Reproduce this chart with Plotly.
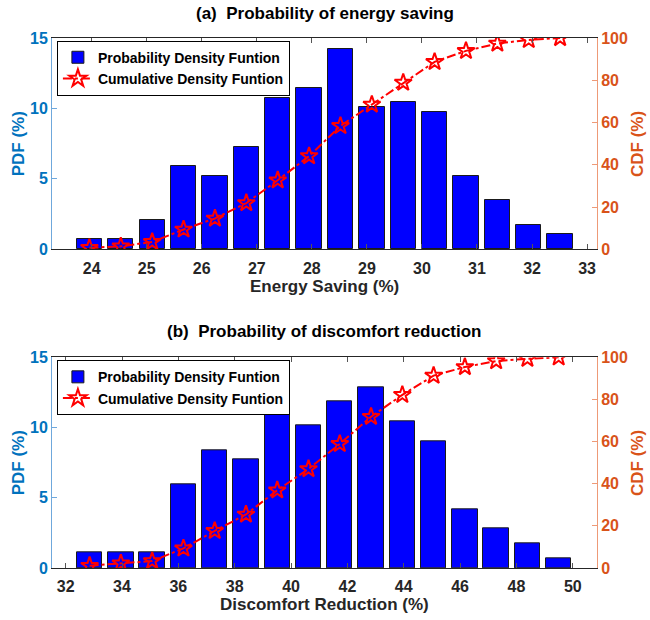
import plotly.graph_objects as go

# ---------------- data ----------------
energy_bins = [23.96, 24.53, 25.10, 25.67, 26.24, 26.81, 27.38, 27.95,
               28.52, 29.09, 29.66, 30.23, 30.80, 31.37, 31.94, 32.51]
energy_pdf = [0.71, 0.71, 2.08, 5.91, 5.23, 7.29, 10.76, 11.45,
              14.24, 10.08, 10.46, 9.75, 5.23, 3.48, 1.75, 1.06]
energy_cdf = [0.7, 1.4, 3.5, 9.4, 14.6, 21.9, 32.7, 44.1,
              58.4, 68.5, 78.9, 88.7, 93.9, 97.4, 99.1, 100.0]

disc_bins = [32.85, 33.96, 35.07, 36.18, 37.29, 38.40, 39.51, 40.62,
             41.73, 42.84, 43.95, 45.06, 46.17, 47.28, 48.39, 49.50]
disc_pdf = [1.10, 1.10, 1.10, 5.95, 8.40, 7.71, 11.52, 10.14,
            11.88, 12.87, 10.45, 9.05, 4.17, 2.80, 1.78, 0.71]
disc_cdf = [1.1, 2.2, 3.3, 9.3, 17.6, 25.4, 36.9, 47.0,
            58.9, 71.8, 82.2, 91.3, 95.4, 98.2, 99.3, 100.0]

energy_xticks = [24, 25, 26, 27, 28, 29, 30, 31, 32, 33]
disc_xticks = [32, 34, 36, 38, 40, 42, 44, 46, 48, 50]
pdf_ticks = [0, 5, 10, 15]
cdf_ticks = [0, 20, 40, 60, 80, 100]

titles = ["(a)  Probability of energy saving", "(b)  Probability of discomfort reduction"]
xlabels = ["Energy Saving (%)", "Discomfort Reduction (%)"]
legend_names = ["Probability Density Funtion", "Cumulative Density Funtion"]

# ---------------- style ----------------
FONT = "Liberation Sans, Arial, sans-serif"
BLUE_AX = "#0072BD"
ORANGE_AX = "#D95319"
DARK = "#262626"

fig = go.Figure()

panels = [
    dict(bins=energy_bins, pdf=energy_pdf, cdf=energy_cdf, width=0.46,
         xa="x", ya="y", ya2="y2", legend="legend"),
    dict(bins=disc_bins, pdf=disc_pdf, cdf=disc_cdf, width=0.90,
         xa="x2", ya="y3", ya2="y4", legend="legend2"),
]

for p in panels:
    fig.add_trace(go.Bar(
        x=p["bins"], y=p["pdf"], width=p["width"], name=legend_names[0],
        marker=dict(color="#0000FF", line=dict(color="#1a1a1a", width=1)),
        xaxis=p["xa"], yaxis=p["ya"], legend=p["legend"],
    ))
    fig.add_trace(go.Scatter(
        x=p["bins"], y=p["cdf"], name=legend_names[1], mode="lines+markers",
        line=dict(color="#FF0000", width=2, dash="dashdot"),
        marker=dict(symbol="star-open", size=13, color="#FF0000",
                    line=dict(color="#FF0000", width=2)),
        xaxis=p["xa"], yaxis=p["ya2"], legend=p["legend"],
    ))

top_dom = [0.6013, 1.0]
bot_dom = [0.0, 0.3975]

tickfont_dark = dict(family=FONT, size=16, color=DARK, weight="bold")
tickfont_blue = dict(family=FONT, size=16, color=BLUE_AX, weight="bold")
tickfont_orng = dict(family=FONT, size=16, color=ORANGE_AX, weight="bold")

def xaxis(rng, ticks, anchor):
    return dict(range=rng, tickvals=ticks, ticks="inside", ticklen=5,
                tickcolor="#555555", showline=True, linecolor=DARK, linewidth=1,
                mirror="ticks", showgrid=False, zeroline=False,
                tickfont=tickfont_dark, anchor=anchor, ticklabelstandoff=4)

def yleft(dom, anchor):
    return dict(domain=dom, range=[0, 15], tickvals=pdf_ticks, ticks="inside",
                ticklen=5, tickcolor="#6FA8DC", showline=True, linecolor="#6FA8DC",
                linewidth=1, showgrid=False, zeroline=False,
                tickfont=tickfont_blue, anchor=anchor)

def yright(over, anchor):
    return dict(overlaying=over, side="right", range=[0, 100], tickvals=cdf_ticks,
                ticks="inside", ticklen=5, tickcolor="#EE9A77", showline=True,
                linecolor="#EE9A77", linewidth=1, showgrid=False, zeroline=False,
                tickfont=tickfont_orng, anchor=anchor)

legend_common = dict(
    bgcolor="white", bordercolor="#000000", borderwidth=1,
    font=dict(family=FONT, size=14, color="#000000", weight="bold"),
    xanchor="left", yanchor="top", tracegroupgap=0, itemwidth=30,
)

fig.update_layout(
    width=650, height=620,
    margin=dict(l=52, r=53, t=38, b=52),
    paper_bgcolor="white", plot_bgcolor="white",
    bargap=0,
    xaxis=dict(domain=[0, 1], **xaxis([23.28, 33.18], energy_xticks, "y")),
    xaxis2=dict(domain=[0, 1], **xaxis([31.515, 50.86], disc_xticks, "y3")),
    yaxis=yleft(top_dom, "x"),
    yaxis2=yright("y", "x"),
    yaxis3=yleft(bot_dom, "x2"),
    yaxis4=yright("y3", "x2"),
    legend=dict(x=0.009, y=0.995, **legend_common),
    legend2=dict(x=0.009, y=0.392, **legend_common),
    showlegend=True,
)

annots = []
title_y = [1.047, 0.4453]
xlabel_y = [0.5302, -0.0698]
mid_y = [(top_dom[0] + top_dom[1]) / 2, (bot_dom[0] + bot_dom[1]) / 2]
for i in range(2):
    annots.append(dict(text=titles[i], x=0.5, y=title_y[i], xref="paper", yref="paper",
                       xanchor="center", yanchor="middle", showarrow=False,
                       font=dict(family=FONT, size=17, color="#000000", weight="bold")))
    annots.append(dict(text=xlabels[i], x=0.5, y=xlabel_y[i], xref="paper", yref="paper",
                       xanchor="center", yanchor="middle", showarrow=False,
                       font=dict(family=FONT, size=17, color=DARK, weight="bold")))
    annots.append(dict(text="PDF (%)", x=-0.0612, y=mid_y[i], xref="paper", yref="paper",
                       xanchor="center", yanchor="middle", showarrow=False, textangle=-90,
                       font=dict(family=FONT, size=17, color=BLUE_AX, weight="bold")))
    annots.append(dict(text="CDF (%)", x=1.074, y=mid_y[i], xref="paper", yref="paper",
                       xanchor="center", yanchor="middle", showarrow=False, textangle=-90,
                       font=dict(family=FONT, size=17, color=ORANGE_AX, weight="bold")))
fig.update_layout(annotations=annots)

fig.write_html("out.html", config={"displayModeBar": False},
               post_script="document.body.style.margin='0';")
